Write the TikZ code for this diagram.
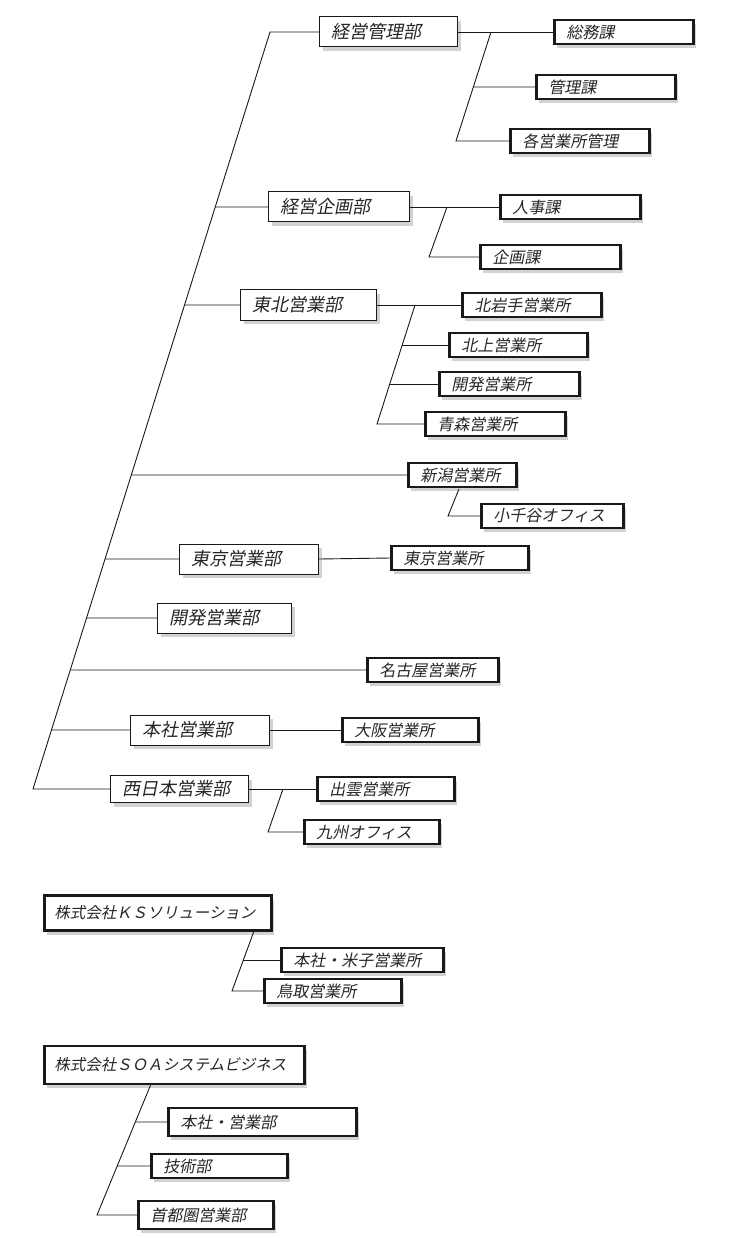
\documentclass[tikz,border=0pt]{standalone}
\usepackage{fontspec}
\newfontfamily\jpfont{Noto Sans CJK JP}[FakeSlant=0.2]
\usetikzlibrary{shadows}

\tikzset{
  box/.style={draw=black!90, fill=white, text=black!85, anchor=west, align=left,
    inner xsep=12pt, inner ysep=0pt, text width={#1pt-24pt},
    drop shadow={shadow xshift=3pt, shadow yshift=-4pt, fill=black!35}},
  bu/.style={box=#1, line width=1pt, minimum height=30pt,
    font=\jpfont\fontsize{18}{20}\selectfont},
  ka/.style={box=#1, line width=2.6pt, minimum height=24pt,
    font=\jpfont\fontsize{16}{18}\selectfont},
  sha/.style={box=#1, line width=2.6pt, minimum height=36pt,
    inner xsep=10pt, text width={#1pt-20pt},
    font=\jpfont\fontsize{15.5}{17}\selectfont},
  conn/.style={draw=black!90, line width=0.9pt},
}

% branch from the line #1--#2 straight across to the node #3
\newcommand{\eda}[3]{%
  \draw[conn] (intersection cs:first line={(#1)--(#2)},
    second line={(#3.west)--([xshift=-10pt]#3.west)}) -- (#3.west);}

\begin{document}
\begin{tikzpicture}[x=1pt, y=-1pt]
    \useasboundingbox (0,0) rectangle (738,1238);

    % Departments
    \node[bu=138] (kanri) at (319,32) {経営管理部};
    \node[bu=141] (kikaku) at (268,207) {経営企画部};
    \node[bu=136] (tohoku) at (240,305) {東北営業部};
    \node[bu=139] (tokyo) at (179,559) {東京営業部};
    \node[bu=134] (kaihatsu) at (157,618) {開発営業部};
    \node[bu=139] (honsha) at (130,730) {本社営業部};
    \node[bu=138, minimum height=27pt] (nishi) at (110,789) {西日本営業部};

    % Sections and offices
    \node[ka=139] (somu) at (553,32) {総務課};
    \node[ka=139] (kanrika) at (535,87) {管理課};
    \node[ka=139] (kakueigyo) at (509,141) {各営業所管理};
    \node[ka=140] (jinji) at (499,207) {人事課};
    \node[ka=140] (kikakuka) at (479,257) {企画課};
    \node[ka=139] (kitaiwate) at (461,305) {北岩手営業所};
    \node[ka=138] (kitakami) at (448,345) {北上営業所};
    \node[ka=140] (kaihatsusho) at (438,384) {開発営業所};
    \node[ka=140] (aomori) at (424,424) {青森営業所};
    \node[ka=108] (niigata) at (407,475) {新潟営業所};
    \node[ka=142] (ojiya) at (480,516) {小千谷オフィス};
    \node[ka=137] (tokyosho) at (390,558) {東京営業所};
    \node[ka=131] (nagoya) at (366,670) {名古屋営業所};
    \node[ka=136] (osaka) at (341,730) {大阪営業所};
    \node[ka=137] (izumo) at (316,789) {出雲営業所};
    \node[ka=135] (kyushu) at (303,832) {九州オフィス};

    % Group companies
    \node[sha=227, minimum height=35pt] (ks) at (43,913) {株式会社ＫＳソリューション};
    \node[ka=162] (yonago) at (280,960) {本社・米子営業所};
    \node[ka=137] (tottori) at (263,991) {鳥取営業所};
    \node[sha=260, minimum height=38pt] (soa) at (43,1065) {株式会社ＳＯＡシステムビジネス};
    \node[ka=188, minimum height=28pt] (honshaeig) at (167,1122) {本社・営業部};
    \node[ka=136] (gijutsu) at (150,1166) {技術部};
    \node[ka=135, minimum height=28pt] (shuto) at (137,1215) {首都圏営業部};

    % Main trunk
    \coordinate (t0) at (270,32);
    \coordinate (t1) at (33,789);
    \draw[conn] (kanri.west) -- (t0) -- (t1) -- (nishi.west);
    \eda{t0}{t1}{kikaku}
    \eda{t0}{t1}{tohoku}
    \eda{t0}{t1}{niigata}
    \eda{t0}{t1}{tokyo}
    \eda{t0}{t1}{kaihatsu}
    \eda{t0}{t1}{nagoya}
    \eda{t0}{t1}{honsha}

    % 経営管理部
    \coordinate (a0) at (491,32);
    \coordinate (a1) at (456,141);
    \draw[conn] (kanri.east) -- (somu.west);
    \draw[conn] (a0) -- (a1) -- (kakueigyo.west);
    \eda{a0}{a1}{kanrika}

    % 経営企画部
    \coordinate (b0) at (447,207);
    \coordinate (b1) at (429,257);
    \draw[conn] (kikaku.east) -- (jinji.west);
    \draw[conn] (b0) -- (b1) -- (kikakuka.west);

    % 東北営業部
    \coordinate (c0) at (415,305);
    \coordinate (c1) at (377,424);
    \draw[conn] (tohoku.east) -- (kitaiwate.west);
    \draw[conn] (c0) -- (c1) -- (aomori.west);
    \eda{c0}{c1}{kitakami}
    \eda{c0}{c1}{kaihatsusho}

    % 新潟, 東京, 本社
    \coordinate (d0) at (459,489);
    \coordinate (d1) at (448,516);
    \draw[conn] (d0) -- (d1) -- (ojiya.west);
    \draw[conn] (tokyo.east) -- (tokyosho.west);
    \draw[conn] (honsha.east) -- (osaka.west);

    % 西日本営業部
    \coordinate (e0) at (283,789);
    \coordinate (e1) at (268,832);
    \draw[conn] (nishi.east) -- (izumo.west);
    \draw[conn] (e0) -- (e1) -- (kyushu.west);

    % KS
    \coordinate (f0) at (254,931);
    \coordinate (f1) at (232,991);
    \draw[conn] (f0) -- (f1) -- (tottori.west);
    \eda{f0}{f1}{yonago}

    % SOA
    \coordinate (g0) at (151,1084);
    \coordinate (g1) at (97,1215);
    \draw[conn] (g0) -- (g1) -- (shuto.west);
    \eda{g0}{g1}{honshaeig}
    \eda{g0}{g1}{gijutsu}
\end{tikzpicture}
\end{document}
